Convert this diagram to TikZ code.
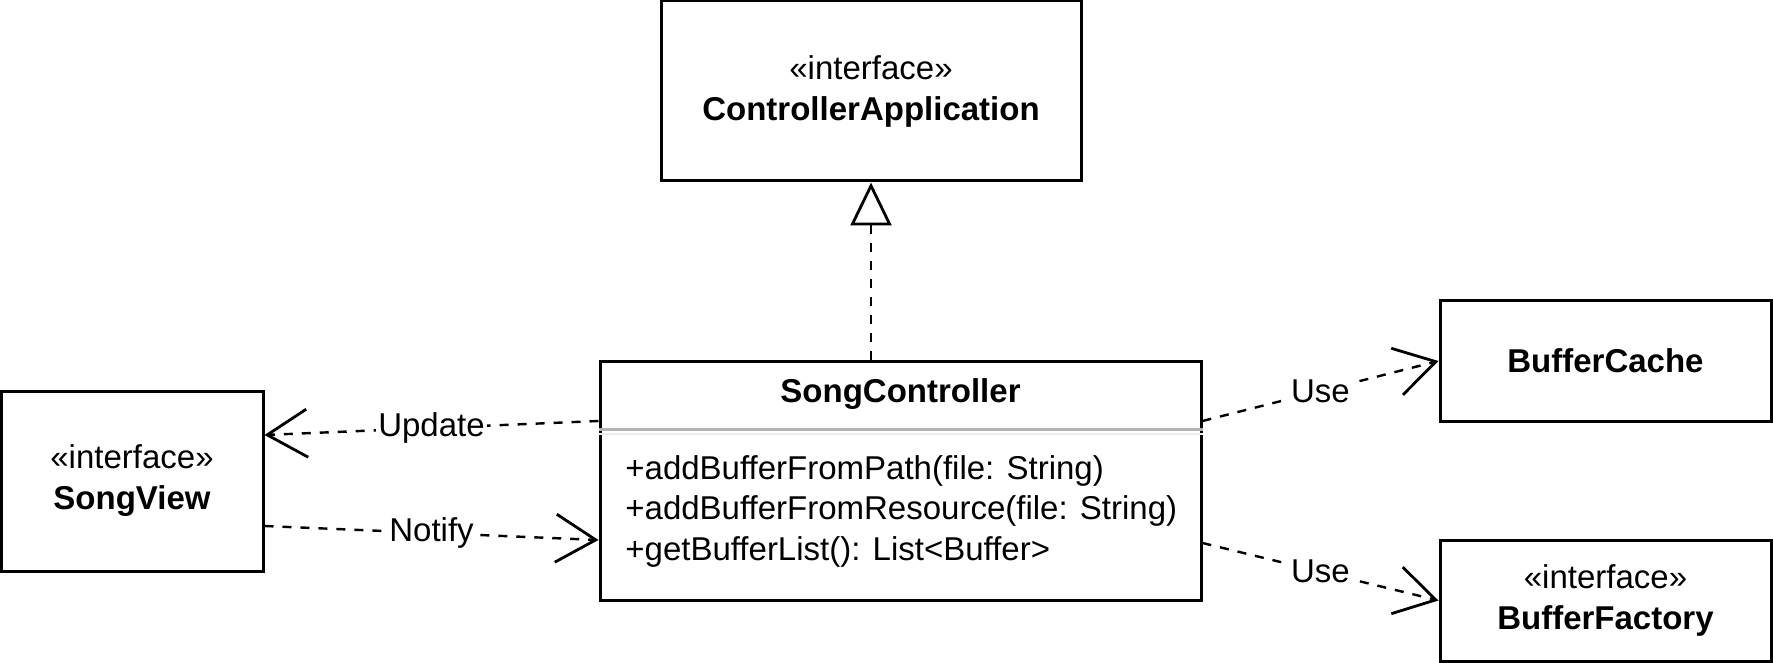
\documentclass[tikz,border=0pt]{standalone}
\usepackage{fontspec}
\setmainfont{Liberation Sans}
\usepackage{tikz}
\usetikzlibrary{positioning, arrows.meta}

\begin{document}
\begin{tikzpicture}[x=0.5pt, y=-0.5pt,
    every node/.style={font=\fontsize{16.5}{20.5}\selectfont},
    classbox/.style={draw, line width=1.5pt, inner sep=0pt, align=center},
    depline/.style={dash pattern=on 4.5pt off 4.5pt, line width=1.2pt,
        -{Straight Barb[length=20pt, width=24pt, line width=1.4pt]}},
    realize/.style={dash pattern=on 4.5pt off 4.5pt, line width=1.2pt,
        -{Triangle[open, length=21.5pt, width=20.5pt, line width=1.4pt, fill=white]}},
    deplabel/.style={midway, fill=white, inner sep=1pt}]
\useasboundingbox (0,0) rectangle (1773,663);
% Interface on top
\node[classbox, minimum width=210pt, minimum height=90pt] (ctrlapp) at (871,91)
    {«interface»\\\textbf{ControllerApplication}};
% Central class
\node[classbox, minimum width=300.5pt, minimum height=119pt] (songctrl) at (900.5,481) {};
\node (songtitle) at (900.5,394) {\textbf{SongController}};
\draw[gray!60, line width=1.75pt]
    ([yshift=-34.5pt]songctrl.north west) -- ([yshift=-34.5pt]songctrl.north east);
\draw[gray!15, line width=1pt]
    ([yshift=-36.5pt]songctrl.north west) -- ([yshift=-36.5pt]songctrl.north east);
\node[anchor=west, align=left, inner sep=0pt, font=\fontsize{16.5}{20.25}\selectfont] (songops) at (625,511)
    {+addBufferFromPath(file: String)\\
     +addBufferFromResource(file: String)\\
     +getBufferList(): List<Buffer>};
% Side boxes
\node[classbox, minimum width=131pt, minimum height=90pt] (songview) at (132,481)
    {«interface»\\\textbf{SongView}};
\node[classbox, minimum width=165.5pt, minimum height=60pt] (bufcache) at (1605.5,361)
    {\textbf{BufferCache}};
\node[classbox, minimum width=165.5pt, minimum height=60.5pt] (buffactory) at (1605.5,600.5)
    {«interface»\\\textbf{BufferFactory}};
% Realization
\draw[realize] (ctrlapp.south |- songctrl.north) -- (ctrlapp.south);
% Dependencies
\draw[depline] ([yshift=30pt]songctrl.west) -- ([yshift=23pt]songview.east)
    node[deplabel] (lblupdate) {Update};
\draw[depline] ([yshift=-22.5pt]songview.east) -- ([yshift=-29.5pt]songctrl.west)
    node[deplabel] (lblnotify) {Notify};
\draw[depline] ([yshift=30pt]songctrl.east) -- (bufcache.west)
    node[deplabel] (lbluse) {Use};
\draw[depline] ([yshift=-31pt]songctrl.east) -- (buffactory.west)
    node[deplabel] (lbluseb) {Use};
\end{tikzpicture}
\end{document}
